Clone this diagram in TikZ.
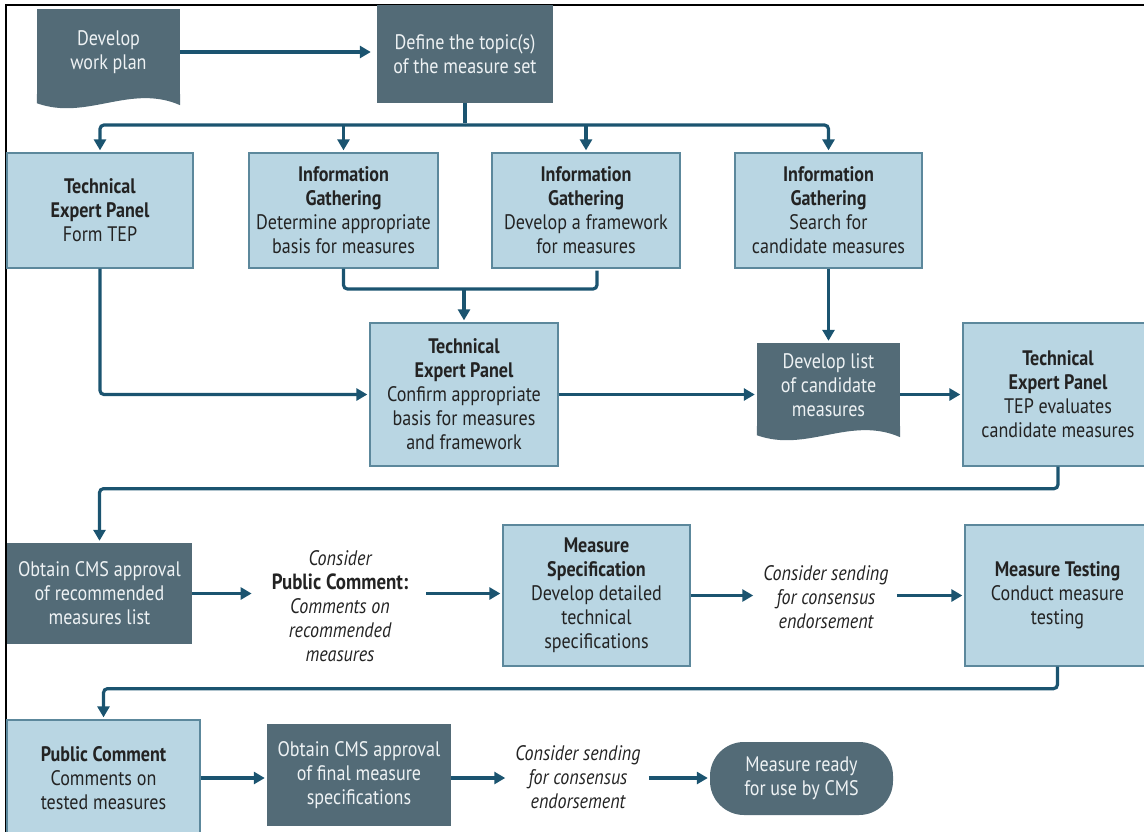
\documentclass[tikz,border=0pt]{standalone}
\usepackage{fontspec}
\setmainfont[FakeStretch=0.86]{PT Sans}
\usetikzlibrary{arrows.meta,calc}

\definecolor{slate}{RGB}{83,107,119}
\definecolor{paleblue}{RGB}{185,214,227}
\definecolor{edgeblue}{RGB}{92,136,156}
\definecolor{flowblue}{RGB}{27,84,112}
\definecolor{ink}{RGB}{35,35,35}
\definecolor{paper}{RGB}{238,242,244}

% wavy bottom of a document box
\newcommand{\docwave}[1]{%
  \fill[slate] ($(#1.south west)+(0,-1)$) -- ($(#1.south west)+(0,8)$)
    .. controls ($(#1.south west)+(50,26)$) and ($(#1.south east)+(-50,-12)$) ..
    ($(#1.south east)+(0,10)$) -- ($(#1.south east)+(0,-1)$) -- cycle;}

\begin{document}
\begin{tikzpicture}[
x=1pt, y=-1pt, % 1 unit = 1 pixel of the layout, y grows downward
every node/.style={font=\fontsize{21}{24}\selectfont, align=center, inner sep=0pt},
boxsize/.style 2 args={minimum width=#1, minimum height=#2},
darkbox/.style={fill=slate, text=paper},
lightbox/.style={fill=paleblue, draw=edgeblue, line width=1.3pt, text=ink},
notes/.style={text=ink, inner xsep=8pt, font=\fontsize{21}{24}\selectfont\itshape},
flow/.style={draw=flowblue, line width=3.2pt, rounded corners=4pt, -{Triangle[length=11pt,width=12pt]}, shorten >=2pt}
]
\useasboundingbox (0,0) rectangle (1144,831);

% --- Khung ---
\draw[line width=2.2pt] (6,840) -- (6,5) -- (1150,5);

% --- Hàng 1 ---
\node[darkbox, boxsize={143}{86}] (plan) at (108.5,52) {Develop\\work plan};
\docwave{plan}
\node[darkbox, boxsize={176}{98}] (topic) at (465,54) {Define the topic(s)\\of the measure set};

\draw[flow, shorten >=6pt] (plan.east) -- (plan.east -| topic.west);

% --- Hàng 2 ---
\node[lightbox, boxsize={186}{115}] (tepform) at (100,210.5)
  {\textbf{Technical}\\\textbf{Expert Panel}\\Form TEP};
\node[lightbox, boxsize={189}{115}] (info1) at (343.5,210.5)
  {\textbf{Information}\\\textbf{Gathering}\\Determine appropriate\\basis for measures};
\node[lightbox, boxsize={188}{115}] (info2) at (586,210.5)
  {\textbf{Information}\\\textbf{Gathering}\\Develop a framework\\for measures};
\node[lightbox, boxsize={187}{115}] (info3) at (828.5,210.5)
  {\textbf{Information}\\\textbf{Gathering}\\Search for\\candidate measures};

\coordinate (bus) at (465,125);
\draw[flow, -] (topic.south) -- (bus);
\draw[flow] (bus) -| (tepform.north);
\draw[flow] (bus) -| (info3.north);
\draw[flow] (info1.north |- bus) -- (info1.north);
\draw[flow] (info2.north |- bus) -- (info2.north);

% --- Hàng 3 ---
\node[lightbox, boxsize={188}{143}] (confirm) at (464,394.5)
  {\textbf{Technical}\\\textbf{Expert Panel}\\Confirm appropriate\\basis for measures\\and framework};
\node[darkbox, boxsize={143}{84}] (list) at (828.5,385) {Develop list\\of candidate\\measures};
\docwave{list}
\node[lightbox, boxsize={190}{143}] (teval) at (1058,394.5)
  {\textbf{Technical}\\\textbf{Expert Panel}\\TEP evaluates\\candidate measures};

\coordinate (merge) at (464,289);
\draw[flow, -] (info1.south) |- (merge) -| ([xshift=11pt]info2.south);
\draw[flow] (merge) -- (confirm.north);
\draw[flow] (tepform.south) |- (confirm.west);
\draw[flow] (info3.south) -- (info3.south |- list.north);
\draw[flow] (confirm.east) -- (confirm.east -| list.west);
\draw[flow] (list.east |- confirm.east) -- (confirm.east -| teval.west);

% --- Hàng 4 ---
\node[darkbox, boxsize={185}{101}] (cmsrec) at (99.5,593.5)
  {Obtain CMS approval\\of recommended\\measures list};
\node[notes, inner xsep=18pt] (pubc) at (340,606)
  {Consider\\\upshape\bfseries\fontsize{22}{24}\selectfont Public Comment:\\Comments on\\recommended\\measures};
\node[lightbox, boxsize={187}{141}] (spec) at (596.5,595.5)
  {\textbf{Measure}\\\textbf{Specification}\\Develop detailed\\technical\\specifications};
\node[notes] (send1) at (826,597) {Consider sending\\for consensus\\endorsement};
\node[lightbox, boxsize={185}{141}] (mtest) at (1057.5,595.5)
  {\textbf{Measure Testing}\\Conduct measure\\testing};

\draw[flow] (teval.south) -- ++(0,22) -| (cmsrec.north);
\draw[flow] (cmsrec.east) -- (cmsrec.east -| pubc.west);
\draw[flow] (pubc.east |- cmsrec.east) -- (cmsrec.east -| spec.west);
\draw[flow] (spec.east) -- (spec.east -| send1.west);
\draw[flow] (send1.east |- spec.east) -- (spec.east -| mtest.west);

% --- Hàng 5 ---
\node[lightbox, boxsize={193}{116}] (pubt) at (103.5,778)
  {\textbf{Public Comment}\\Comments on\\tested measures};
\node[darkbox, boxsize={184}{102}] (cmsfin) at (359,775)
  {Obtain CMS approval\\of final measure\\specifications};
\node[notes] (send2) at (578,777) {Consider sending\\for consensus\\endorsement};
\node[darkbox, boxsize={183}{73}, rounded corners=34pt] (ready) at (801.5,778.5)
  {Measure ready\\for use by CMS};

\draw[flow] (mtest.south) -- ++(0,22) -| (pubt.north);
\draw[flow] (pubt.east) -- (pubt.east -| cmsfin.west);
\draw[flow] (cmsfin.east |- pubt.east) -- (pubt.east -| send2.west);
\draw[flow] (send2.east |- pubt.east) -- (pubt.east -| ready.west);

\end{tikzpicture}
\end{document}
